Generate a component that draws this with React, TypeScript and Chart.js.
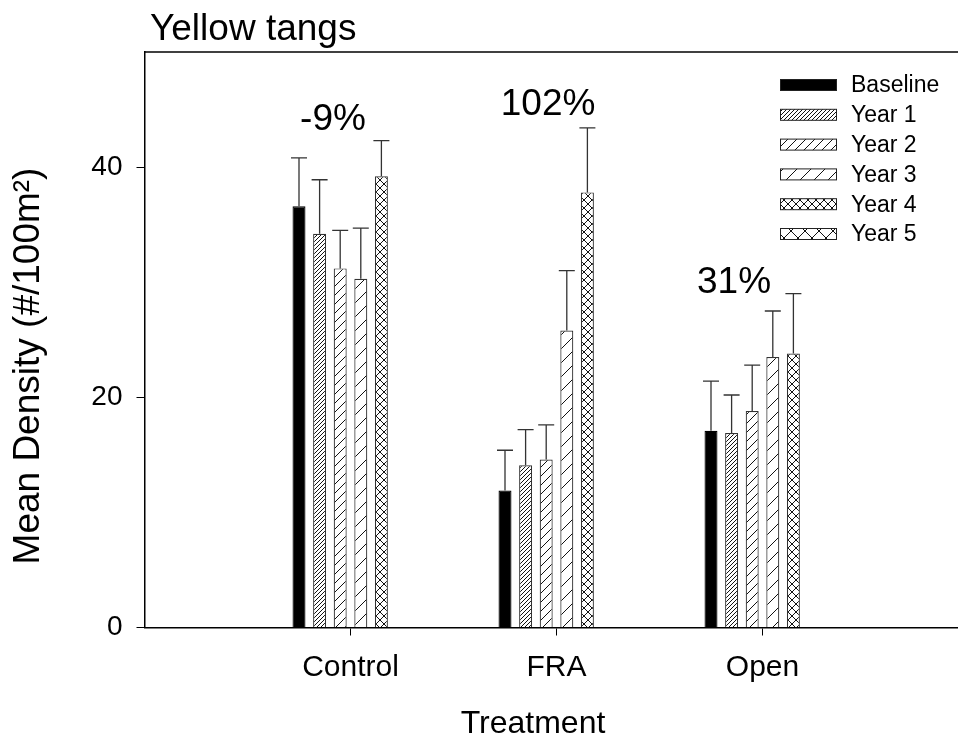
import React, { useEffect, useRef } from 'react';
import { Chart, registerables } from 'chart.js';

Chart.register(...registerables);

// ---- data ----
const categories = ['Control', 'FRA', 'Open'];
const seriesNames = ['Baseline', 'Year 1', 'Year 2', 'Year 3', 'Year 4', 'Year 5'];

const baselineMean = [36.6, 11.9, 17.1];
const baselineSE = [4.2, 3.5, 4.3];
const year1Mean = [34.2, 14.1, 16.9];
const year1SE = [4.7, 3.1, 3.3];
const year2Mean = [31.2, 14.6, 18.8];
const year2SE = [3.3, 3.0, 4.0];
const year3Mean = [30.3, 25.8, 23.5];
const year3SE = [4.4, 5.2, 4.0];
const year4Mean = [39.2, 37.8, 23.8];
const year4SE = [3.1, 5.6, 5.2];
const year5Mean: (number | null)[] = [null, null, null];
const year5SE: (number | null)[] = [null, null, null];

const yTicks = [0, 20, 40];

const chartTitle = 'Yellow tangs';
const xTitle = 'Treatment';
const yTitle = 'Mean Density (#/100m²)';

const changeLabels = ['-9%', '102%', '31%'];
// anchor of the change labels (category offset, value)
const changeLabelOffset = [-0.085, -0.041, -0.138];
const changeLabelValue = [43.2, 44.5, 29.1];

const allMeans = [baselineMean, year1Mean, year2Mean, year3Mean, year4Mean, year5Mean];
const allSE = [baselineSE, year1SE, year2SE, year3SE, year4SE, year5SE];

const FONT = '"Liberation Sans", Arial, sans-serif';

function makePattern(kind: string, size: number): CanvasPattern | string {
  if (kind === 'solid') return '#000';
  const c = document.createElement('canvas');
  c.width = size;
  c.height = size;
  const g = c.getContext('2d')!;
  g.fillStyle = '#fff';
  g.fillRect(0, 0, size, size);
  g.strokeStyle = '#111';
  g.lineWidth = 1;
  const fwd = () => {
    g.beginPath();
    g.moveTo(-1, size + 1);
    g.lineTo(size + 1, -1);
    g.moveTo(-2, 2);
    g.lineTo(2, -2);
    g.moveTo(size - 2, size + 2);
    g.lineTo(size + 2, size - 2);
    g.stroke();
  };
  const back = () => {
    g.beginPath();
    g.moveTo(-1, -1);
    g.lineTo(size + 1, size + 1);
    g.moveTo(size - 2, -2);
    g.lineTo(size + 2, 2);
    g.moveTo(-2, size - 2);
    g.lineTo(2, size + 2);
    g.stroke();
  };
  if (kind === 'fwd') fwd();
  if (kind === 'cross') {
    fwd();
    back();
  }
  return g.createPattern(c, 'repeat')!;
}

export default function App() {
  const ref = useRef<HTMLCanvasElement | null>(null);

  useEffect(() => {
    if (!ref.current) return;
    const fills = [
      makePattern('solid', 1),
      makePattern('fwd', 4),
      makePattern('fwd', 9),
      makePattern('fwd', 14),
      makePattern('cross', 8),
      makePattern('cross', 14),
    ];

    const datasets = seriesNames.map((name, d) => ({
      label: name,
      data: categories.map((_, i) => ({ x: i, y: allMeans[d][i] })),
      backgroundColor: fills[d],
      borderColor: d === 0 ? '#000' : '#333',
      borderWidth: 1.2,
      categoryPercentage: 0.6,
      barPercentage: 0.63,
    }));

    const decor = {
      id: 'decor',
      afterDatasetsDraw(chart: any) {
        const ctx = chart.ctx as CanvasRenderingContext2D;
        const ys = chart.scales.y;
        const xs = chart.scales.x;
        const area = chart.chartArea;
        ctx.save();
        // error bars
        ctx.strokeStyle = '#333';
        ctx.lineWidth = 1.3;
        seriesNames.forEach((_, d) => {
          const meta = chart.getDatasetMeta(d);
          meta.data.forEach((el: any, i: number) => {
            const m = allMeans[d][i];
            const se = allSE[d][i];
            if (m == null || se == null) return;
            const top = ys.getPixelForValue(m + se);
            ctx.beginPath();
            ctx.moveTo(el.x, el.y);
            ctx.lineTo(el.x, top);
            ctx.moveTo(el.x - 8, top);
            ctx.lineTo(el.x + 8, top);
            ctx.stroke();
          });
        });
        // top frame line
        ctx.strokeStyle = '#000';
        ctx.lineWidth = 1.5;
        ctx.beginPath();
        ctx.moveTo(area.left, area.top);
        ctx.lineTo(area.right, area.top);
        ctx.stroke();
        // title
        ctx.fillStyle = '#000';
        ctx.font = `37px ${FONT}`;
        ctx.textAlign = 'left';
        ctx.textBaseline = 'alphabetic';
        ctx.fillText(chartTitle, 150, 40);
        // axis titles
        ctx.font = `32px ${FONT}`;
        ctx.textAlign = 'center';
        ctx.textBaseline = 'middle';
        ctx.fillText(xTitle, 533, 724);
        ctx.save();
        ctx.translate(29, 366);
        ctx.rotate(-Math.PI / 2);
        ctx.font = `37px ${FONT}`;
        ctx.fillText(yTitle, 0, 0);
        ctx.restore();
        // change labels
        ctx.font = `37px ${FONT}`;
        ctx.textAlign = 'center';
        ctx.textBaseline = 'alphabetic';
        changeLabels.forEach((t, i) => {
          const x = xs.getPixelForValue(i + changeLabelOffset[i]);
          const y = ys.getPixelForValue(changeLabelValue[i]);
          ctx.fillText(t, x, y);
        });
        // legend
        const lx = area.left + 635.5;
        const ly = area.top + 33;
        ctx.font = `23px ${FONT}`;
        ctx.textAlign = 'left';
        ctx.textBaseline = 'middle';
        seriesNames.forEach((name, d) => {
          const cy = ly + d * 29.8;
          ctx.fillStyle = fills[d] as any;
          ctx.fillRect(lx, cy - 5.5, 57, 11);
          ctx.strokeStyle = '#222';
          ctx.lineWidth = 1;
          ctx.strokeRect(lx + 0.5, cy - 5.5, 56, 11);
          ctx.fillStyle = '#000';
          ctx.fillText(name, lx + 71, cy + 1);
        });
        ctx.restore();
      },
    };

    const chart = new Chart(ref.current, {
      type: 'bar',
      data: { datasets: datasets as any },
      options: {
        animation: false,
        responsive: true,
        maintainAspectRatio: false,
        layout: { padding: { top: 52, right: 11.5, left: 0, bottom: 0 } },
        plugins: { legend: { display: false }, tooltip: { enabled: false }, title: { display: false } },
        scales: {
          x: {
            type: 'linear',
            min: -1,
            max: 3,
            offset: false,
            afterBuildTicks: (s: any) => {
              s.ticks = categories.map((_, i) => ({ value: i }));
            },
            afterFit: (s: any) => {
              s.height = 118.5;
            },
            grid: {
              offset: false,
              drawOnChartArea: false,
              drawTicks: true,
              tickLength: 8,
              color: '#000',
              lineWidth: 1,
            },
            border: { display: true, color: '#000', width: 1.5 },
            ticks: {
              autoSkip: false,
              maxRotation: 0,
              padding: 14,
              color: '#000',
              font: { family: FONT, size: 30 },
              callback: (v: any) => categories[v as number] ?? '',
            },
            title: { display: false },
          },
          y: {
            type: 'linear',
            min: 0,
            max: 50,
            afterBuildTicks: (s: any) => {
              s.ticks = yTicks.map((v) => ({ value: v }));
            },
            afterFit: (s: any) => {
              s.width = 144.5;
            },
            grid: {
              drawOnChartArea: false,
              drawTicks: true,
              tickLength: 8,
              color: '#000',
              lineWidth: 1,
            },
            border: { display: true, color: '#000', width: 1.5 },
            ticks: {
              padding: 14,
              color: '#000',
              font: { family: FONT, size: 28 },
            },
            title: { display: false },
          },
        },
      },
      plugins: [decor],
    } as any);

    return () => chart.destroy();
  }, []);

  return (
    <div
      style={{
        position: 'fixed',
        left: 0,
        top: 0,
        width: 958,
        height: 746,
        overflow: 'hidden',
        background: '#fff',
      }}
    >
      <div style={{ position: 'relative', width: 980, height: 746 }}>
        <canvas ref={ref} />
      </div>
    </div>
  );
}
